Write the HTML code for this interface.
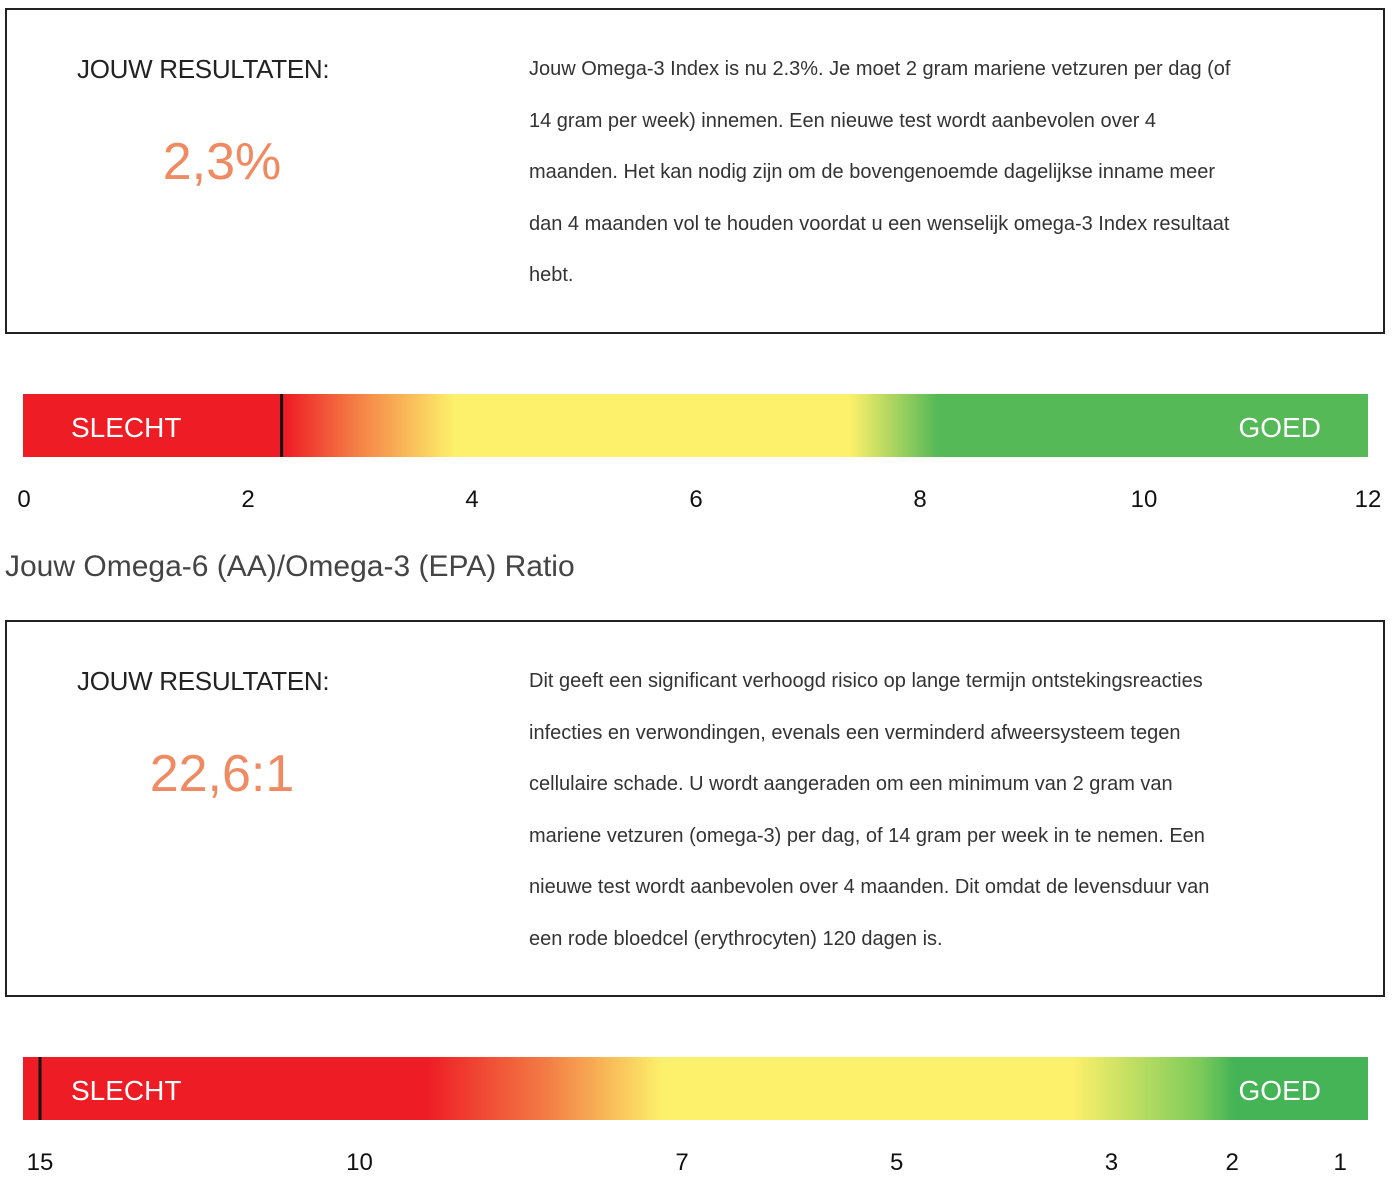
<!DOCTYPE html>
<html><head><meta charset="utf-8"><style>
body{margin:0;width:1392px;height:1201px;background:#fff;font-family:"Liberation Sans",sans-serif;color:#222;position:relative;overflow:hidden}
.box{position:absolute;left:5px;width:1380px;border:2px solid #222;box-sizing:border-box}
.h{position:absolute;left:70px;font-size:26px;color:#222;letter-spacing:-0.3px}
.num{position:absolute;left:60px;width:310px;text-align:center;font-size:52px;color:#ef8a62;font-weight:300}
.txt{position:absolute;left:522px;font-size:20px;line-height:51.5px;color:#333;white-space:nowrap}
.title{position:absolute;left:5px;top:550px;font-size:30px;color:#444}
svg{position:absolute;left:0;top:0}
</style></head><body>
<div class="box" style="top:8px;height:326px">
<div class="h" style="top:44px">JOUW RESULTATEN:</div>
<div class="num" style="top:122px">2,3%</div>
<div class="txt" style="top:34px">Jouw Omega-3 Index is nu 2.3%. Je moet 2 gram mariene vetzuren per dag (of<br>14 gram per week) innemen. Een nieuwe test wordt aanbevolen over 4<br>maanden. Het kan nodig zijn om de bovengenoemde dagelijkse inname meer<br>dan 4 maanden vol te houden voordat u een wenselijk omega-3 Index resultaat<br>hebt.</div>
</div>
<div class="title">Jouw Omega-6 (AA)/Omega-3 (EPA) Ratio</div>
<div class="box" style="top:620px;height:377px">
<div class="h" style="top:44px">JOUW RESULTATEN:</div>
<div class="num" style="top:122px">22,6:1</div>
<div class="txt" style="top:34px">Dit geeft een significant verhoogd risico op lange termijn ontstekingsreacties<br>infecties en verwondingen, evenals een verminderd afweersysteem tegen<br>cellulaire schade. U wordt aangeraden om een minimum van 2 gram van<br>mariene vetzuren (omega-3) per dag, of 14 gram per week in te nemen. Een<br>nieuwe test wordt aanbevolen over 4 maanden. Dit omdat de levensduur van<br>een rode bloedcel (erythrocyten) 120 dagen is.</div>
</div>
<svg width="1392" height="1201" id="s">
<defs>
<linearGradient id="g1" x1="0" x2="1">
<stop offset="0" stop-color="#ee1c25"/><stop offset="0.195" stop-color="#ee1c25"/>
<stop offset="0.245" stop-color="#f47a44"/><stop offset="0.32" stop-color="#fdf06a"/>
<stop offset="0.615" stop-color="#fdf06a"/><stop offset="0.68" stop-color="#55b957"/><stop offset="1" stop-color="#55b957"/>
</linearGradient>
<linearGradient id="g2" x1="0" x2="1">
<stop offset="0" stop-color="#ee1c25"/><stop offset="0.3" stop-color="#ee1c25"/>
<stop offset="0.39" stop-color="#f37d45"/><stop offset="0.475" stop-color="#fdf06a"/>
<stop offset="0.78" stop-color="#fdf06a"/><stop offset="0.875" stop-color="#7dcb5a"/><stop offset="0.9" stop-color="#45b456"/><stop offset="1" stop-color="#45b456"/>
</linearGradient>
</defs>
</svg>
<script>
const ticks1=[0,2,4,6,8,10,12];
const value1=2.3;
const ticks2=[15,10,7,5,3,2,1];
const value2=22.6;
const ns="http://www.w3.org/2000/svg",s=document.getElementById('s');
function mk(t,a,txt){const e=document.createElementNS(ns,t);for(const k in a)e.setAttribute(k,a[k]);if(txt!=null)e.textContent=txt;s.appendChild(e);return e;}
// gauge 1 linear scale
const x1=v=>24+v/12*1344;
// gauge 2 piecewise scale (domain breakpoints -> fraction)
const d2=[15,10,7,5,3,2,1],f2=[0,0.2381,0.4784,0.6384,0.7984,0.8884,0.9688];
function x2(v){v=Math.max(1,Math.min(15,v));for(let i=0;i<d2.length-1;i++){if(v<=d2[i]&&v>=d2[i+1]){const t=(d2[i]-v)/(d2[i]-d2[i+1]);return 40+1342*(f2[i]+t*(f2[i+1]-f2[i]));}}return 40;}
function gauge(y,grad,ticks,sx,val,name){
 let r=mk('rect',{x:23,y:y,width:1345,height:63,fill:'url(#'+grad+')'});
 
 
 let t=mk('text',{x:71,y:y+43,fill:'#fff','font-size':28},'SLECHT');
 
 
 t=mk('text',{x:1321,y:y+43,fill:'#fff','font-size':28,'text-anchor':'end'},'GOED');
 
 
 let mx=Math.max(24,Math.min(1366,sx(val)));
 let m=mk('rect',{x:mx-1.5,y:y,width:3,height:63,fill:'#111'});
 
 
 ticks.forEach(v=>{let e=mk('text',{x:sx(v),y:y+113,'font-size':24,fill:'#111','text-anchor':'middle'},String(v));
 
 });
}
gauge(394,'g1',ticks1,x1,value1,'omega3-gauge');
gauge(1057,'g2',ticks2,x2,value2,'ratio-gauge');
</script>
</body></html>
